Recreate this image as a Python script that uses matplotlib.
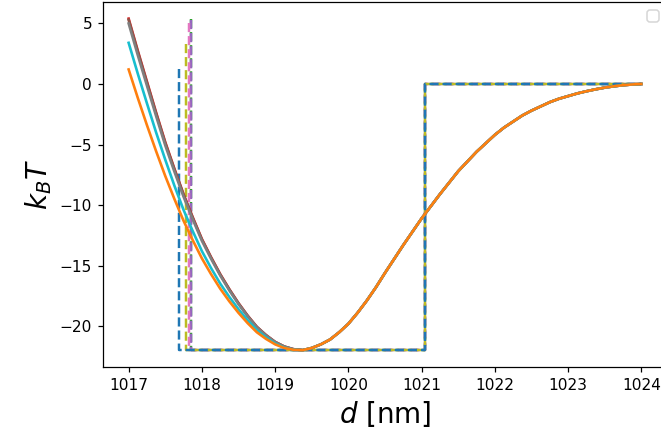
import matplotlib
matplotlib.use("Agg")
import matplotlib.pyplot as plt

# sample positions (nm), repulsive side 1017 .. 1019.25
d_head = [1017.0, 1017.125, 1017.25, 1017.375, 1017.5, 1017.625, 1017.75,
          1017.875, 1018.0, 1018.125, 1018.25, 1018.375, 1018.5, 1018.625,
          1018.75, 1018.875, 1019.0, 1019.125, 1019.25]
# attractive side 1019.375 .. 1024
d_tail = [1019.375, 1019.5, 1019.625, 1019.75, 1019.875, 1020.0, 1020.125,
          1020.25, 1020.375, 1020.5, 1020.625, 1020.75, 1020.875, 1021.0,
          1021.125, 1021.25, 1021.375, 1021.5, 1021.625, 1021.75, 1021.875,
          1022.0, 1022.125, 1022.25, 1022.375, 1022.5, 1022.625, 1022.75,
          1022.875, 1023.0, 1023.125, 1023.25, 1023.375, 1023.5, 1023.625,
          1023.75, 1023.875, 1024.0]

head_orange = [1.2, -1.15, -3.4, -5.55, -7.6, -9.5, -11.3, -12.9, -14.4, -15.7,
               -16.9, -17.95, -18.9, -19.75, -20.5, -21.05, -21.5, -21.8, -21.95]
head_red = [5.4, 2.75, 0.2, -2.35, -4.8, -7.0, -9.1, -11.0, -12.8, -14.3,
            -15.7, -16.95, -18.1, -19.13, -20.05, -20.73, -21.3, -21.68, -21.9]
head_brown = [5.3, 2.66, 0.11, -2.43, -4.87, -7.06, -9.15, -11.05, -12.84, -14.33,
              -15.73, -16.97, -18.12, -19.15, -20.06, -20.74, -21.3, -21.68, -21.9]
head_gray = [5.0, 2.38, -0.14, -2.65, -5.07, -7.24, -9.31, -11.18, -12.95, -14.43,
             -15.81, -17.05, -18.18, -19.19, -20.09, -20.76, -21.32, -21.69, -21.9]
head_cyan = [3.4, 0.85, -1.6, -4.0, -6.25, -8.4, -10.4, -12.15, -13.8, -15.2,
             -16.48, -17.59, -18.6, -19.51, -20.32, -20.93, -21.43, -21.77, -21.95]

# attractive side, shared by all curves
tail = [-21.98, -21.8, -21.5, -21.1, -20.5, -19.8, -18.9, -17.9, -16.8, -15.6,
        -14.45, -13.3, -12.2, -11.1, -10.1, -9.1, -8.15, -7.2, -6.4, -5.6,
        -4.9, -4.2, -3.6, -3.1, -2.6, -2.2, -1.85, -1.5, -1.22, -1.0,
        -0.78, -0.6, -0.44, -0.3, -0.19, -0.1, -0.04, 0.0]

# square-well approximations
step_colors = ['C2', 'C4', 'C6', 'C8', 'C0']
step_left = [1017.85, 1017.845, 1017.83, 1017.78, 1017.69]
step_top = [5.4, 5.3, 5.0, 3.3, 1.2]
well_right = 1021.04
well_depth = -22.0
d_end = 1024.0

fig = plt.figure(figsize=(661 / 111, 442 / 111), dpi=111)
# axes runs past the right edge of the picture, as in the original crop
ax = fig.add_axes([103 / 661, 75 / 442, 564 / 661, 365 / 442])
ax.spines['right'].set_visible(False)

# dashed wells first
for c, xl, top in zip(step_colors, step_left, step_top):
    xs = [xl, xl, well_right, well_right, d_end]
    ys = [top, well_depth, well_depth, 0.0, 0.0]
    ax.plot(xs, ys, '--', color=c, lw=1.6)

# smooth potentials, orange on top
curves = [('C3', head_red), ('C5', head_brown), ('C7', head_gray),
          ('C9', head_cyan), ('C1', head_orange)]
for c, head in curves:
    ax.plot(d_head + d_tail, head + tail, color=c, lw=1.7)

ax.legend(loc='upper right')
ax.set_xlabel(r'$d$ [nm]', fontsize=18)
ax.set_ylabel(r'$k_B T$', fontsize=18)

fig.savefig('out.png', dpi=111)
